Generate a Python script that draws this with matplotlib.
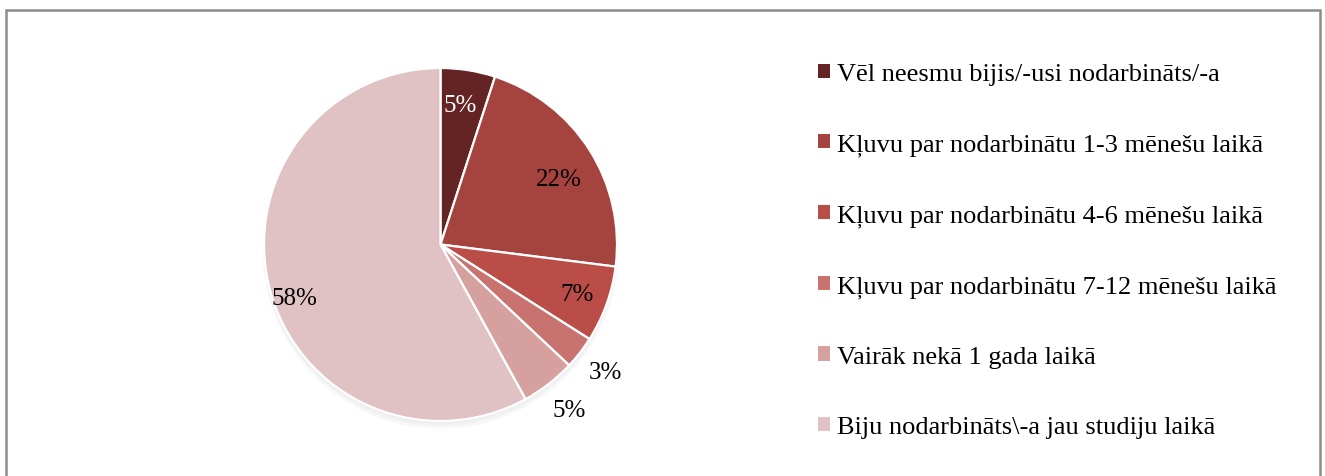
import matplotlib.pyplot as plt
import numpy as np
from matplotlib.patches import Rectangle, Circle

plt.rcParams['font.family'] = ['Liberation Serif', 'DejaVu Serif']

kategorijas = ['Vēl neesmu bijis/-usi nodarbināts/-a',
               'Kļuvu par nodarbinātu 1-3 mēnešu laikā',
               'Kļuvu par nodarbinātu 4-6 mēnešu laikā',
               'Kļuvu par nodarbinātu 7-12 mēnešu laikā',
               'Vairāk nekā 1 gada laikā',
               'Biju nodarbināts\\-a jau studiju laikā']
procenti = [5, 22, 7, 3, 5, 58]
krasas = ['#632423', '#A5433F', '#BA4D48', '#C87370', '#D6A09F', '#E1C2C4']
# uzrakstu novietojums: attālums no centra un leņķa nobīde (grādos)
attalumi = [0.80, 0.765, 0.82, 1.18, 1.19, 0.88]
lenka_nobide = [1, -3.6, 0, 0, 0, 5.6]
teksta_krasas = ['white', 'black', 'black', 'black', 'black', 'black']

fig = plt.figure(figsize=(13.25, 4.77), dpi=100)

# rāmis ap diagrammu (apakša aiziet ārpus attēla)
fig.patches.append(Rectangle((6/1325, -0.1), 1314/1325, 1.1 - 11/477, transform=fig.transFigure,
                             fill=False, edgecolor='#8c8c8c', linewidth=1.8))

ax = fig.add_axes([264/1325, 55/477, 353/1325, 353/477])
# viegla ēna zem rāceņa
for k, a in enumerate([0.05, 0.05, 0.05]):
    ax.add_patch(Circle((0, -0.012 * (k + 1)), 1.0 + 0.004 * k, color='gray', alpha=a, lw=0,
                        clip_on=False))
wedges, _ = ax.pie(procenti, colors=krasas, startangle=90, counterclock=False,
                   wedgeprops=dict(edgecolor='white', linewidth=1.6))
ax.set_xlim(-1, 1)
ax.set_ylim(-1, 1)
ax.set_aspect('equal')

for w, p, d, o, c in zip(wedges, procenti, attalumi, lenka_nobide, teksta_krasas):
    ang = np.deg2rad((w.theta1 + w.theta2) / 2 + o)
    ax.text(d * np.cos(ang), d * np.sin(ang), f'{p}%', ha='center', va='center',
            fontsize=18, color=c, clip_on=False)

leg = fig.legend(wedges, kategorijas, loc='upper left', bbox_to_anchor=(818/1325, 1 - 64/477),
                 frameon=False, fontsize=19, handlelength=0.45, handleheight=0.45,
                 handletextpad=0.27, labelspacing=1.83, borderpad=0, borderaxespad=0)
for h in leg.legend_handles:
    h.set_edgecolor('none')

fig.savefig('out.png', dpi=100)
